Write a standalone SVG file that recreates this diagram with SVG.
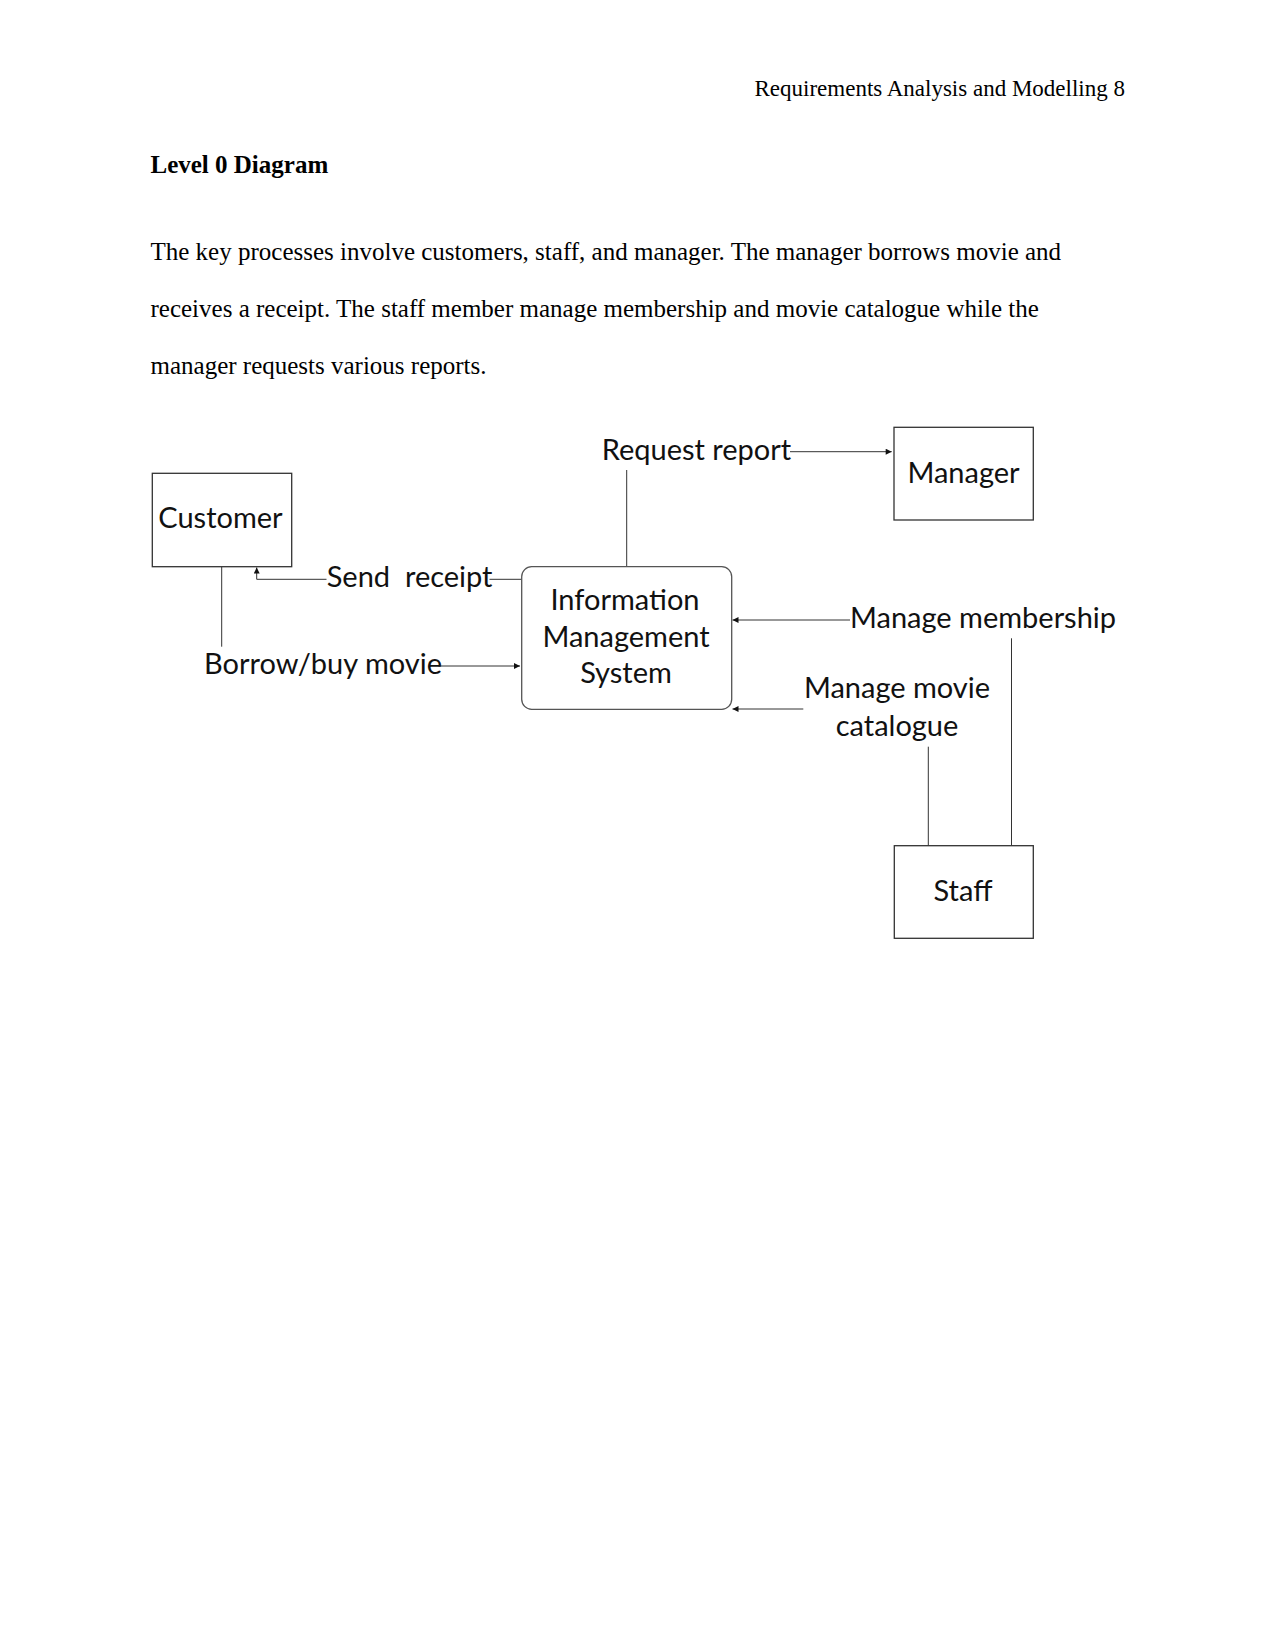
<svg xmlns="http://www.w3.org/2000/svg" width="1275" height="1650" viewBox="0 0 1275 1650">
<style>
.page{font-family:"Liberation Serif","Times New Roman",serif;font-size:25px;fill:#000}
.hdr{font-size:23px}
.bold{font-weight:bold}
.lbl{font-family:Lato,"Carlito","Liberation Sans",sans-serif;font-size:29px;fill:#111;white-space:pre}
.box{fill:#fff;stroke:#333;stroke-width:1.3}
.conn{fill:none;stroke:#333;stroke-width:1}
</style>
<defs>
<marker id="ah" viewBox="0 0 10 10" refX="10" refY="5" markerWidth="8" markerHeight="6" markerUnits="userSpaceOnUse" orient="auto">
<path d="M0,0 L10,5 L0,10 z" fill="#111"/>
</marker>
</defs>
<rect width="1275" height="1650" fill="#fff"/>
<text class="page hdr" x="1125" y="95.5" text-anchor="end">Requirements Analysis and Modelling 8</text>
<text class="page bold" x="150.5" y="173">Level 0 Diagram</text>
<text class="page" x="150.5" y="259.5">The key processes involve customers, staff, and manager. The manager borrows movie and</text>
<text class="page" x="150.5" y="316.5">receives a receipt. The staff member manage membership and movie catalogue while the</text>
<text class="page" x="150.5" y="373.5">manager requests various reports.</text>

<g id="connectors">
<path class="conn" d="M626.7,470 V566.7"/>
<path class="conn" d="M790,451.7 H891.7" marker-end="url(#ah)"/>
<path class="conn" d="M521.7,579.3 H489.5"/>
<path class="conn" d="M326.5,579.3 H256.7 V567.5" marker-end="url(#ah)"/>
<path class="conn" d="M221.7,567 V646.7"/>
<path class="conn" d="M438.5,666 H520" marker-end="url(#ah)"/>
<path class="conn" d="M850,620 H732.5" marker-end="url(#ah)"/>
<path class="conn" d="M803.3,709 H732.5" marker-end="url(#ah)"/>
<path class="conn" d="M1011.5,638.3 V845.7"/>
<path class="conn" d="M928.3,746.7 V845.7"/>
<text class="lbl" x="601.7" y="460">Request report</text>
<text class="lbl" x="326.7" y="586.7">Send  receipt</text>
<text class="lbl" x="204" y="674">Borrow/buy movie</text>
<text class="lbl" x="850" y="628.3">Manage membership</text>
<text class="lbl" x="897" y="698.3" text-anchor="middle">Manage movie</text>
<text class="lbl" x="897" y="736" text-anchor="middle">catalogue</text>
</g>

<g id="customer">
<rect class="box" x="152.3" y="473.3" width="139.4" height="93.4"/>
<text class="lbl" x="220.5" y="528" text-anchor="middle">Customer</text>
</g>
<g id="ims">
<rect class="box" x="521.7" y="566.7" width="210" height="142.6" rx="10" ry="10" style="stroke:#555"/>
<text class="lbl" x="625" y="610" text-anchor="middle">Information</text>
<text class="lbl" x="626" y="646.7" text-anchor="middle">Management</text>
<text class="lbl" x="626" y="683.3" text-anchor="middle">System</text>
</g>
<g id="manager">
<rect class="box" x="894" y="427.3" width="139.3" height="92.7"/>
<text class="lbl" x="963.5" y="482.7" text-anchor="middle">Manager</text>
</g>
<g id="staff">
<rect class="box" x="894.3" y="845.7" width="139" height="92.6"/>
<text class="lbl" x="963" y="901" text-anchor="middle">Staff</text>
</g>
</svg>
